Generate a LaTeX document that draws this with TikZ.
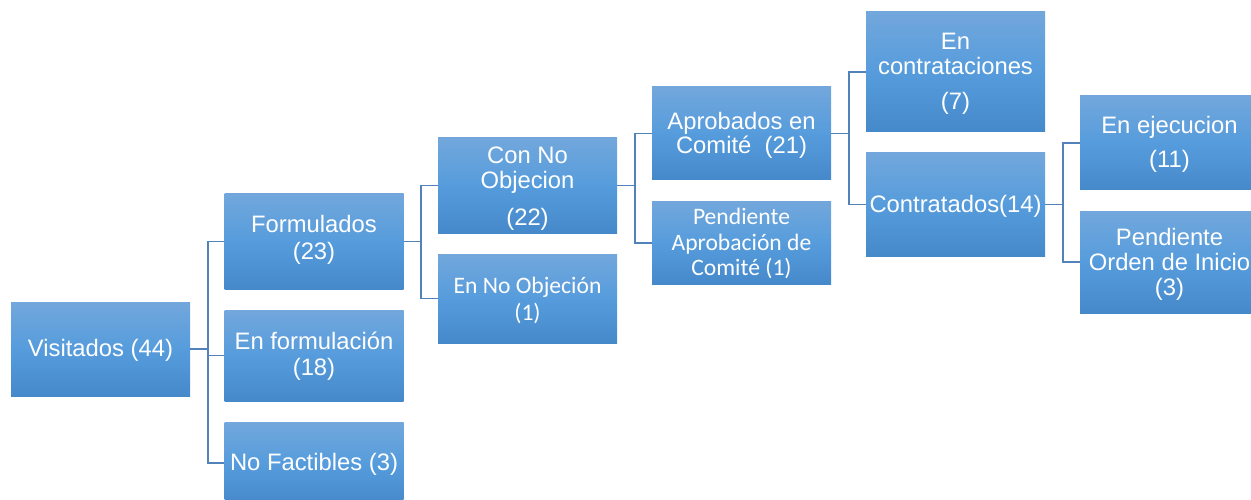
\documentclass[tikz,border=0pt]{standalone}
\usepackage{fontspec}
\setmainfont{Liberation Sans}
\newfontfamily\calfont{Carlito}
\definecolor{boxtop}{RGB}{114,167,220}
\definecolor{boxmid}{RGB}{86,156,220}
\definecolor{boxbot}{RGB}{70,137,203}
\definecolor{linkc}{RGB}{82,130,186}
\begin{document}
\begin{tikzpicture}[x=1pt,y=-1pt,
  box/.style={draw=none, rectangle, inner sep=0pt, minimum width=179pt,
    top color=boxtop, bottom color=boxbot, middle color=boxmid},
  lbl/.style={anchor=north, inner sep=0pt, align=center, text=white,
    font=\fontsize{23.8}{25}\selectfont},
  clbl/.style={lbl, font=\calfont\fontsize{23.6}{25}\selectfont},
  link/.style={draw=linkc, line width=1.6pt},
]
\useasboundingbox (0,0) rectangle (1251,500);
\clip (0,0) rectangle (1251,500);
% boxes
\node[box, minimum height=94pt]  (vis) at (100.5,349) {};
\node[box, minimum height=95pt]  (form) at (314,241.5) {};
\node[box, minimum height=91pt]  (enf) at (314,355.5) {};
\node[box, minimum height=82pt]  (nof) at (314,463) {};
\node[box, minimum height=95pt]  (cno) at (527.5,185.5) {};
\node[box, minimum height=89pt]  (eno) at (527.5,298.5) {};
\node[box, minimum height=93pt]  (apr) at (741.5,133.5) {};
\node[box, minimum height=82pt]  (pap) at (741.5,243) {};
\node[box, minimum height=120pt] (enc) at (955.5,72) {};
\node[box, minimum height=103pt] (con) at (955.5,204.5) {};
\node[box, minimum height=94pt]  (eje) at (1169.5,143) {};
\node[box, minimum height=102pt] (por) at (1169.5,262) {};
% labels (north = first baseline - 24)
\node[lbl] (tvis) at ([yshift=-7.2pt+24pt]vis.center) {\rule{0pt}{24pt}Visitados (44)};
\node[lbl] (tform) at ([yshift=9.3pt+24pt]form.center) {\rule{0pt}{24pt}Formulados\\[2.3pt](23)};
\node[lbl] (tenf) at ([yshift=6pt+24pt]enf.center) {\rule{0pt}{24pt}En formulación\\[0.3pt](18)};
\node[lbl] (tnof) at ([yshift=-7.5pt+24pt]nof.center) {\rule{0pt}{24pt}No Factibles (3)};
\node[lbl] (tcno) at ([yshift=22.3pt+24pt]cno.center) {\rule{0pt}{24pt}Con No\\[-0.4pt]Objecion\\[12.7pt](22)};
\node[clbl] (teno) at ([yshift=5.7pt+24pt]eno.center) {\rule{0pt}{24pt}En No Objeción\\[2pt](1)};
\node[lbl] (tapr) at ([yshift=4pt+24pt]apr.center) {\rule{0pt}{24pt}Aprobados en\\[-0.7pt]Comité\ \ (21)};
\node[clbl] (tpap) at ([yshift=18.5pt+24pt]pap.center) {\rule{0pt}{24pt}Pendiente\\[0.3pt]Aprobación de\\[0.7pt]Comité (1)};
\node[lbl] (tenc) at ([yshift=22.2pt+24pt]enc.center) {\rule{0pt}{24pt}En\\[-0.3pt]contrataciones\\[10.3pt](7)};
\node[lbl] (tcon) at ([yshift=-8pt+24pt]con.center) {\rule{0pt}{24pt}Contratados(14)};
\node[lbl] (teje) at ([yshift=9.8pt+24pt]eje.center) {\rule{0pt}{24pt}En ejecucion\\[9pt](11)};
\node[lbl] (tpor) at ([yshift=17.2pt+24pt]por.center) {\rule{0pt}{24pt}Pendiente\\[0pt]Orden de Inicio\\[0.7pt](3)};
% connectors
\foreach \p/\c in {vis/form, vis/enf, vis/nof, form/cno, form/eno, cno/apr, cno/pap, apr/enc, apr/con, con/eje, con/por}{
  \draw[link] (\p.east) -- ([xshift=17.5pt]\p.east) |- (\c.west);
}
\end{tikzpicture}
\end{document}
